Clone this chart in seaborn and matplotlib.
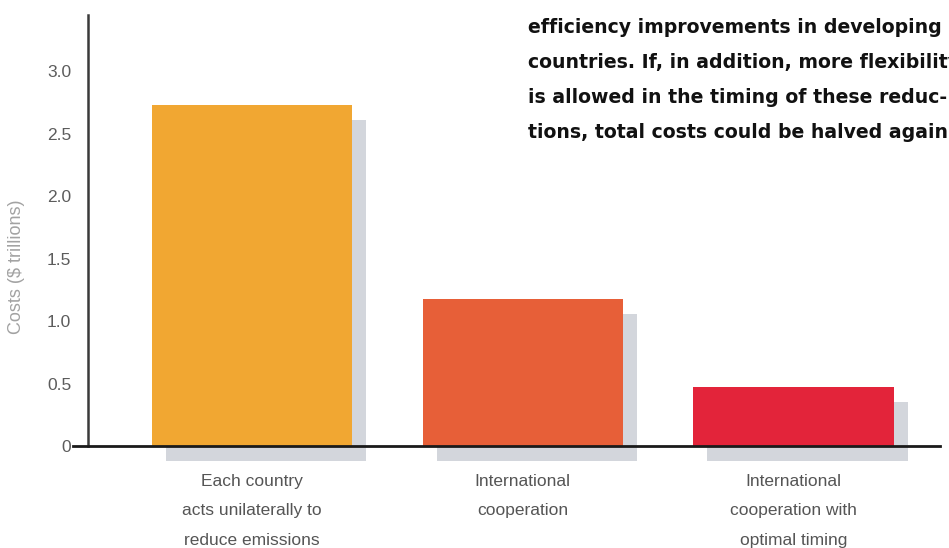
import matplotlib
matplotlib.use("Agg")
import matplotlib.pyplot as plt
import matplotlib.patheffects as pe
import seaborn as sns

# Abatement cost scenarios
categories = [
    "Each country\nacts unilaterally to\nreduce emissions",
    "International\ncooperation",
    "International\ncooperation with\noptimal timing",
]
costs = [2.73, 1.18, 0.47]
bar_colors = ["#f1a732", "#e75f38", "#e3243a"]
y_ticks = [0, 0.5, 1.0, 1.5, 2.0, 2.5, 3.0]
y_tick_labels = ["0", "0.5", "1.0", "1.5", "2.0", "2.5", "3.0"]
y_label = "Costs ($ trillions)"
note_lines = [
    "efficiency improvements in developing",
    "countries. If, in addition, more flexibility",
    "is allowed in the timing of these reduc-",
    "tions, total costs could be halved again.",
]

sns.set_theme(style="white")
plt.rcParams["font.family"] = ["Liberation Sans", "DejaVu Sans"]

W, H = 949, 548
fig = plt.figure(figsize=(W / 100, H / 100), dpi=100)
fig.patch.set_facecolor("white")
ax = fig.add_axes([73 / W, 102 / H, 867 / W, 431 / H])

sns.barplot(
    x=categories, y=costs, hue=categories, palette=bar_colors,
    legend=False, width=0.74, saturation=1, ax=ax, zorder=1,
)

# drop shadow offset down and to the right of each bar
for patch in ax.patches:
    patch.set_edgecolor("none")
    patch.set_clip_on(False)
    patch.set_path_effects([
        pe.SimplePatchShadow(offset=(10.1, -10.8), shadow_rgbFace="#d3d6dc", alpha=1.0),
        pe.Normal(),
    ])

ax.set_xlim(-0.66, 2.54)
ax.set_ylim(0, 3.45)

for side in ("top", "right"):
    ax.spines[side].set_visible(False)
ax.spines["left"].set_position(("data", -0.605))
ax.spines["left"].set_color("#3a3a3a")
ax.spines["left"].set_linewidth(1.8)
ax.spines["bottom"].set_color("#1a1a1a")
ax.spines["bottom"].set_linewidth(2.0)
ax.spines["bottom"].set_zorder(3)

ax.set_yticks(y_ticks)
ax.set_yticklabels(y_tick_labels)
ax.tick_params(axis="y", direction="in", length=10.8, width=1.4, color="#8a8a8a",
               pad=12, labelsize=12.5, labelcolor="#5c5c5c")
ax.yaxis.get_major_ticks()[0].tick1line.set_visible(False)
ax.tick_params(axis="x", length=0, pad=20, labelsize=12.5, labelcolor="#555555")
for lbl in ax.get_xticklabels():
    lbl.set_linespacing(2.2)
ax.set_xlabel("")
ax.set_ylabel("")

fig.text(17 / W, 1 - 267 / H, y_label, rotation=90, ha="center", va="center",
         fontsize=13, color="#a2a2a2")

# bold caption running off the right edge
for i, line in enumerate(note_lines):
    fig.text(528 / W, 1 - (33 + 35 * i) / H, line, ha="left", va="baseline",
             fontsize=13.6, fontweight="bold", family=["DejaVu Sans"],
             color="#111111")

fig.savefig("out.png", dpi=100, facecolor="white")
